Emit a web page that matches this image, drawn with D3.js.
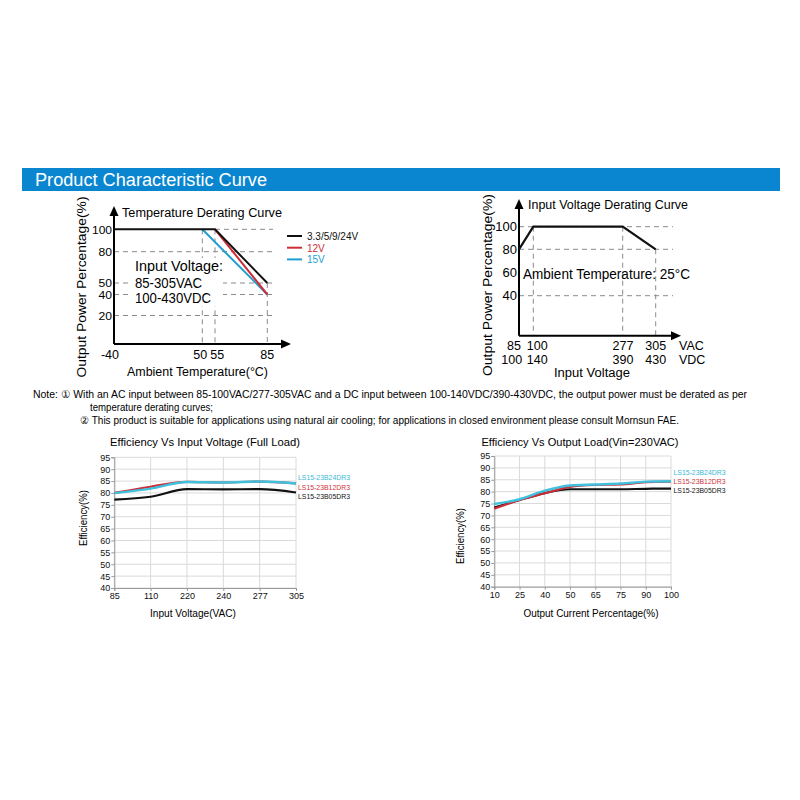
<!DOCTYPE html>
<html><head><meta charset="utf-8">
<script src="https://cdn.jsdelivr.net/npm/d3@7"></script>
<style>body{margin:0;background:#fff}svg{display:block}text{font-family:"Liberation Sans",Arial,sans-serif}</style>
</head><body><svg id="c" width="800" height="800"></svg>
<script>
// ---------- DATA ----------
const headerTitle = "Product Characteristic Curve";
// Temperature derating
const tdTempTicks = [-40, 50, 55, 85];
const tdPowerTicks = [100, 80, 50, 40, 20];
const tdNames = ["3.3/5/9/24V", "12V", "15V"];
const tdTempBlack = [-40, 55, 85], tdPowBlack = [100, 100, 50];
const tdTempRed = [55, 85], tdPowRed = [100, 40];
const tdTempBlue = [50, 85], tdPowBlue = [100, 40];
// Input voltage derating
const ivVAC = [85, 100, 277, 305];
const ivVDC = [100, 140, 390, 430];
const ivPower = [80, 100, 100, 80];
const ivPowerTicks = [100, 80, 60, 40];
// Efficiency vs input voltage
const vinCats = ["85", "110", "220", "240", "277", "305"];
const effVin24 = [79.9, 81.8, 84.6, 84.4, 84.8, 84.0];
const effVin12 = [80.0, 82.6, 84.7, 84.4, 84.8, 84.0];
const effVin05 = [77.2, 78.4, 81.6, 81.5, 81.6, 80.2];
// Efficiency vs output load
const loadCats = ["10", "25", "40", "50", "65", "75", "90", "100"];
const effLoad24 = [74.8, 76.8, 80.4, 82.6, 83.0, 83.4, 84.2, 84.4];
const effLoad12 = [72.8, 76.5, 79.3, 82.0, 82.8, 83.0, 84.0, 84.2];
const effLoad05 = [73.3, 76.5, 79.4, 81.0, 81.0, 81.0, 81.2, 81.3];
const effTicks = d3.range(40, 96, 5);
const modelNames = ["LS15-23B24DR3", "LS15-23B12DR3", "LS15-23B05DR3"];
const noteLines = [
  "Note: \u2460 With an AC input between 85-100VAC/277-305VAC and a DC input between 100-140VDC/390-430VDC, the output power must be derated as per",
  "temperature derating curves;",
  "\u2461 This product is suitable for applications using natural air cooling; for applications in closed environment please consult Mornsun FAE."
];

const BLUE = "#1f9fd0", RED = "#cc2e38", BLACK = "#111", CYAN = "#3fc0dc";
const svg = d3.select("#c");

// ---------- HEADER ----------
svg.append("rect").attr("x", 22).attr("y", 168).attr("width", 758).attr("height", 23).attr("fill", "#0a86d0");
svg.append("text").attr("x", 35).attr("y", 186).attr("fill", "#fff").attr("font-size", 18)
  .attr("textLength", 232).attr("lengthAdjust", "spacingAndGlyphs").text(headerTitle);

function arrowAxis(g, x0, y0, x1, y1) {
  g.append("line").attr("x1", x0).attr("y1", y0).attr("x2", x1).attr("y2", y1).attr("stroke", "#000").attr("stroke-width", 2);
}
function arrowHead(g, x, y, dir) {
  const p = dir === "up" ? [[x, y], [x - 4.5, y + 10], [x + 4.5, y + 10]] : [[x, y], [x - 10, y - 4.5], [x - 10, y + 4.5]];
  g.append("path").attr("d", d3.line()(p) + "Z").attr("fill", "#000");
}
function dash(g, x1, y1, x2, y2) {
  g.append("line").attr("x1", x1).attr("y1", y1).attr("x2", x2).attr("y2", y2)
    .attr("stroke", "#8a8a8a").attr("stroke-width", 1).attr("stroke-dasharray", "5,4");
}

// ---------- TEMPERATURE DERATING ----------
{
  const g = svg.append("g");
  const x = d3.scaleLinear().domain([-40, 50, 55, 85]).range([114, 202.3, 215, 267.3]);
  const y = d3.scaleLinear().domain([0, 20, 40, 50, 80, 100]).range([344, 315.5, 294.5, 283, 251.7, 229.3]);
  const x0 = 114, y0 = 344, xEnd = 273;
  dash(g, x(55), y(100), xEnd, y(100));
  [80, 50, 40, 20].forEach(v => dash(g, x0, y(v), xEnd, y(v)));
  dash(g, x(50), y(100), x(50), y0);
  dash(g, x(55), y(100), x(55), y0);
  dash(g, x(85), y(50), x(85), y0);
  g.append("rect").attr("x", 131).attr("y", 258).attr("width", 92).attr("height", 48).attr("fill", "#fff");
  [["Input Voltage:", 271, 88], ["85-305VAC", 287.5, 67], ["100-430VDC", 302.5, 76]].forEach(t =>
    g.append("text").attr("x", 135).attr("y", t[1]).attr("font-size", 14.5).attr("textLength", t[2])
      .attr("lengthAdjust", "spacingAndGlyphs").text(t[0]));
  arrowAxis(g, x0, y0, 285, y0); arrowHead(g, 291, y0, "right");
  arrowAxis(g, x0, y0, x0, 214); arrowHead(g, x0, 206, "up");
  const line = d3.line().x(d => x(d[0])).y(d => y(d[1]));
  const mk = (t, p) => t.map((v, i) => [v, p[i]]);
  g.append("path").attr("d", line(mk(tdTempBlue, tdPowBlue))).attr("fill", "none").attr("stroke", BLUE).attr("stroke-width", 2);
  g.append("path").attr("d", line(mk(tdTempRed, tdPowRed))).attr("fill", "none").attr("stroke", RED).attr("stroke-width", 2);
  g.append("path").attr("d", line(mk(tdTempBlack, tdPowBlack))).attr("fill", "none").attr("stroke", BLACK).attr("stroke-width", 2);
  const yoff = {100: 4.3, 80: 4.3, 50: 3.6, 40: 4.6, 20: 4.3};
  tdPowerTicks.forEach(v => g.append("text").attr("x", 112).attr("y", y(v) + yoff[v]).attr("text-anchor", "end").attr("font-size", 11)
    .attr("textLength", v === 100 ? 20 : 13.5).attr("lengthAdjust", "spacingAndGlyphs").text(v));
  const xoff = {"-40": -4, "50": -2, "55": 2.3, "85": 0};
  tdTempTicks.forEach(v => g.append("text").attr("x", x(v) + xoff[v]).attr("y", 359).attr("text-anchor", "middle").attr("font-size", 12.5).text(v));
  g.append("text").attr("x", 122).attr("y", 217).attr("font-size", 12).attr("textLength", 160).attr("lengthAdjust", "spacingAndGlyphs").text("Temperature Derating Curve");
  g.append("text").attr("x", 127).attr("y", 376).attr("font-size", 12.5).attr("textLength", 141).attr("lengthAdjust", "spacingAndGlyphs").text("Ambient Temperature(\u00B0C)");
  g.append("text").attr("transform", "translate(86,287) rotate(-90)").attr("text-anchor", "middle").attr("font-size", 13)
    .attr("textLength", 181).attr("lengthAdjust", "spacingAndGlyphs").text("Output Power Percentage(%)");
  const lc = [BLACK, RED, BLUE], lt = ["#111", RED, BLUE];
  tdNames.forEach((n, i) => {
    const yy = 236 + i * 11.7;
    g.append("line").attr("x1", 287).attr("x2", 302).attr("y1", yy).attr("y2", yy).attr("stroke", lc[i]).attr("stroke-width", 2);
    g.append("text").attr("x", 307).attr("y", yy + 3.8).attr("font-size", 10).attr("fill", lt[i]).text(n);
  });
}

// ---------- INPUT VOLTAGE DERATING ----------
{
  const g = svg.append("g");
  const xr = [519, 533.3, 622.7, 655.7];
  const x = d3.scaleLinear().domain(ivVAC).range(xr);
  const xdc = d3.scaleLinear().domain(ivVDC).range(xr);
  const y = d3.scaleLinear().domain([0, 40, 60, 80, 100]).range([335.7, 295.7, 272.3, 249.3, 226.7]);
  const x0 = 519, y0 = 335.7, xEnd = 673;
  [100, 80, 40].forEach(v => dash(g, x0, y(v), xEnd, y(v)));
  dash(g, x(100), y(100), x(100), y0);
  dash(g, x(277), y(100), x(277), y0);
  dash(g, x(305), y(80), x(305), y0);
  arrowAxis(g, x0, y0, 674, y0); arrowHead(g, 681, y0, "right");
  arrowAxis(g, x0, y0, x0, 207); arrowHead(g, x0, 199, "up");
  const line = d3.line().x((d, i) => x(ivVAC[i])).y(d => y(d));
  g.append("path").attr("d", line(ivPower)).attr("fill", "none").attr("stroke", BLACK).attr("stroke-width", 2.2);
  ivPowerTicks.forEach(v => g.append("text").attr("x", 517).attr("y", y(v) + 4.5).attr("text-anchor", "end").attr("font-size", 13).text(v));
  const offAC = [-5, 4, 0.3, 0], offDC = [-7.3, 4, 0.3, 0];
  ivVAC.forEach((v, i) => g.append("text").attr("x", x(v) + offAC[i]).attr("y", 349.5).attr("text-anchor", "middle").attr("font-size", 12.5).text(v));
  ivVDC.forEach((v, i) => g.append("text").attr("x", xdc(v) + offDC[i]).attr("y", 363.5).attr("text-anchor", "middle").attr("font-size", 12.5).text(v));
  g.append("text").attr("x", 679).attr("y", 349.5).attr("font-size", 12.5).text("VAC");
  g.append("text").attr("x", 679).attr("y", 363.5).attr("font-size", 12.5).text("VDC");
  g.append("text").attr("x", 592).attr("y", 377).attr("text-anchor", "middle").attr("font-size", 12.5).attr("textLength", 76).attr("lengthAdjust", "spacingAndGlyphs").text("Input Voltage");
  g.append("text").attr("x", 528).attr("y", 208.5).attr("font-size", 12).attr("textLength", 160).attr("lengthAdjust", "spacingAndGlyphs").text("Input Voltage Derating Curve");
  g.append("text").attr("x", 523).attr("y", 278.5).attr("font-size", 14).attr("textLength", 167).attr("lengthAdjust", "spacingAndGlyphs").text("Ambient Temperature: 25\u00B0C");
  g.append("text").attr("transform", "translate(492,285) rotate(-90)").attr("text-anchor", "middle").attr("font-size", 13)
    .attr("textLength", 182).attr("lengthAdjust", "spacingAndGlyphs").text("Output Power Percentage(%)");
}

// ---------- NOTES ----------
svg.append("text").attr("x", 33).attr("y", 397.5).attr("font-size", 11).attr("textLength", 714).attr("lengthAdjust", "spacingAndGlyphs").text(noteLines[0]);
svg.append("text").attr("x", 90).attr("y", 410.5).attr("font-size", 11).attr("textLength", 123).attr("lengthAdjust", "spacingAndGlyphs").text(noteLines[1]);
svg.append("text").attr("x", 80).attr("y", 423.5).attr("font-size", 11).attr("textLength", 599).attr("lengthAdjust", "spacingAndGlyphs").text(noteLines[2]);

// ---------- EFFICIENCY CHARTS ----------
function effChart(o) {
  const g = svg.append("g");
  const x = d3.scalePoint().domain(o.cats).range([o.left, o.right]);
  const y = d3.scaleLinear().domain([40, 95]).range([o.bottom, o.top]);
  effTicks.forEach(v => g.append("line").attr("x1", o.left).attr("x2", o.right).attr("y1", y(v)).attr("y2", y(v)).attr("stroke", "#dadada"));
  o.cats.forEach(c => g.append("line").attr("x1", x(c)).attr("x2", x(c)).attr("y1", o.top).attr("y2", o.bottom).attr("stroke", "#dadada"));
  const ax = g.append("g").attr("transform", `translate(0,${o.bottom})`).call(d3.axisBottom(x).tickSize(3).tickPadding(2));
  const ay = g.append("g").attr("transform", `translate(${o.left},0)`).call(d3.axisLeft(y).tickValues(effTicks).tickSize(3).tickPadding(1));
  [ax, ay].forEach(a => {
    a.select(".domain").attr("stroke", "#9a9a9a");
    a.selectAll(".tick line").attr("stroke", "#9a9a9a");
    a.selectAll("text").attr("font-size", 9).attr("fill", "#111").attr("font-family", "Liberation Sans, Arial, sans-serif");
  });
  const line = d3.line().x((d, i) => x(o.cats[i])).y(d => y(d)).curve(d3.curveMonotoneX);
  g.append("path").attr("d", line(o.s05)).attr("fill", "none").attr("stroke", BLACK).attr("stroke-width", 2.2);
  g.append("path").attr("d", line(o.s12)).attr("fill", "none").attr("stroke", RED).attr("stroke-width", 2.2);
  g.append("path").attr("d", line(o.s24)).attr("fill", "none").attr("stroke", CYAN).attr("stroke-width", 2.4);
  const cols = ["#38b8d6", "#d0323c", "#111"];
  modelNames.forEach((n, i) => g.append("text").attr("x", o.legX).attr("y", o.legY[i]).attr("font-size", 8).attr("fill", cols[i])
    .attr("textLength", 52).attr("lengthAdjust", "spacingAndGlyphs").text(n));
  g.append("text").attr("x", o.titleX).attr("y", 446).attr("text-anchor", "middle").attr("font-size", 11)
    .attr("textLength", o.titleW).attr("lengthAdjust", "spacingAndGlyphs").text(o.title);
  g.append("text").attr("x", o.xlabX).attr("y", 617).attr("text-anchor", "middle").attr("font-size", 10)
    .attr("textLength", o.xlabW).attr("lengthAdjust", "spacingAndGlyphs").text(o.xlab);
  g.append("text").attr("transform", `translate(${o.ylabX},${o.ylabY}) rotate(-90)`).attr("text-anchor", "middle").attr("font-size", 10)
    .attr("textLength", 56).attr("lengthAdjust", "spacingAndGlyphs").text("Efficiency(%)");
}
effChart({cats: vinCats, left: 114.3, right: 296, top: 457.3, bottom: 588, s24: effVin24, s12: effVin12, s05: effVin05,
  legX: 298, legY: [480, 490, 498.5], title: "Efficiency Vs Input Voltage (Full Load)", titleX: 205, titleW: 190,
  xlab: "Input Voltage(VAC)", xlabX: 193, xlabW: 86, ylabX: 87, ylabY: 518});
effChart({cats: loadCats, left: 494.3, right: 671, top: 456, bottom: 586.7, s24: effLoad24, s12: effLoad12, s05: effLoad05,
  legX: 673.5, legY: [475, 484, 493], title: "Efficiency Vs Output Load(Vin=230VAC)", titleX: 580, titleW: 197,
  xlab: "Output Current Percentage(%)", xlabX: 591, xlabW: 135, ylabX: 464, ylabY: 536});
</script></body></html>
